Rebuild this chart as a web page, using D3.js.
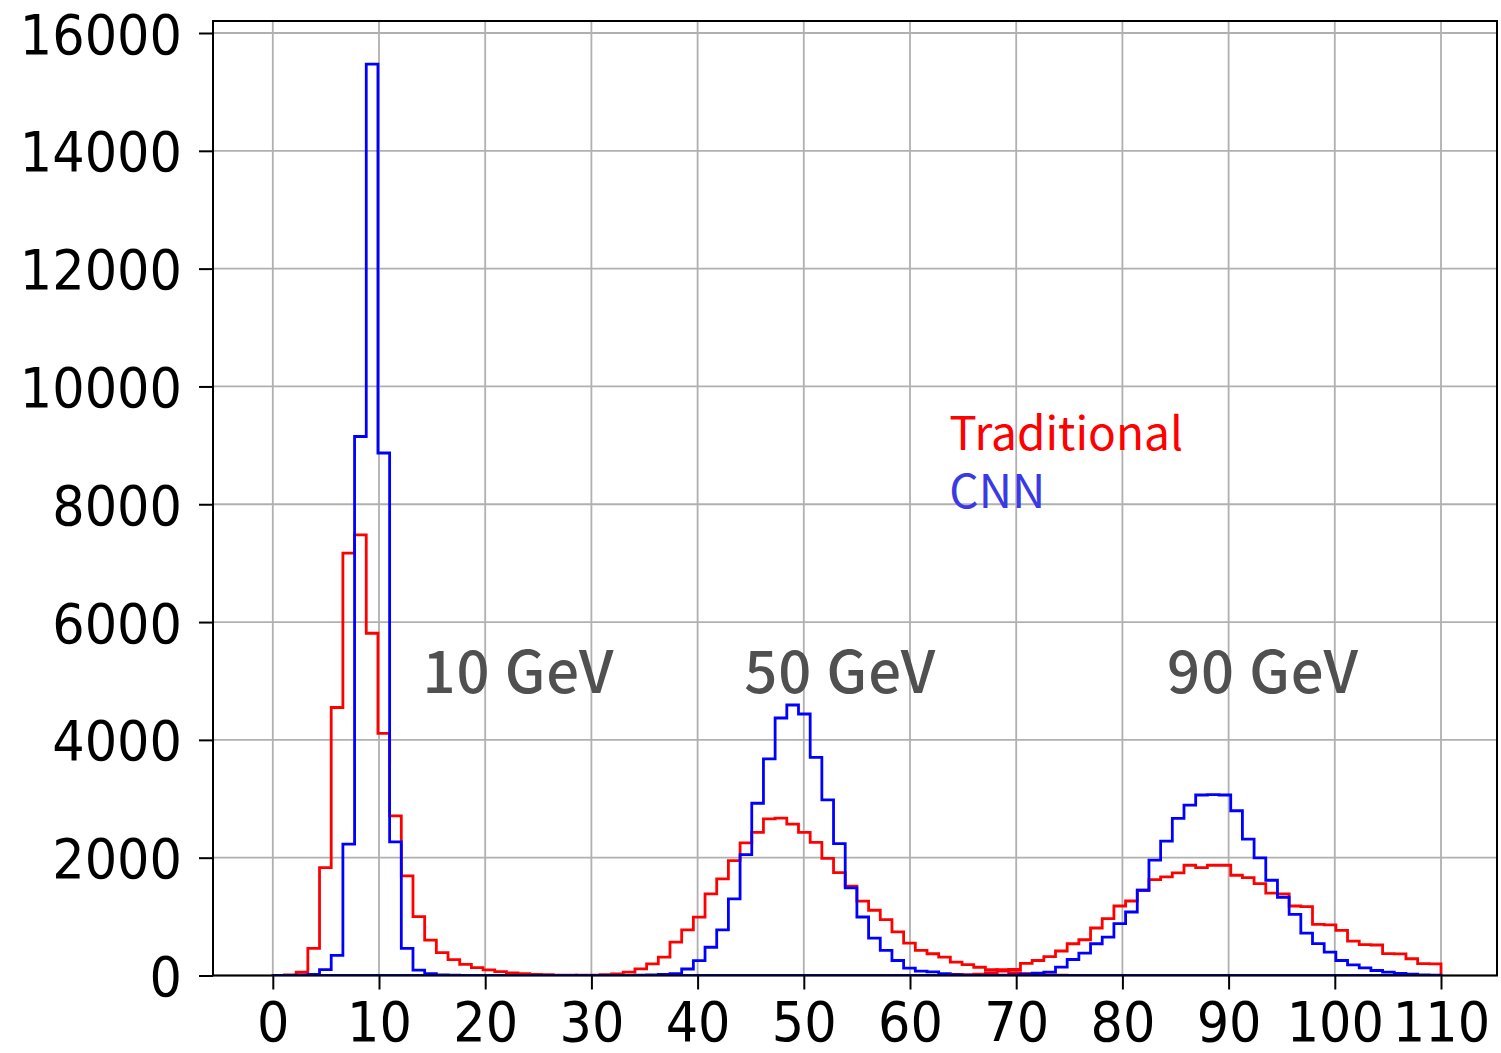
<!DOCTYPE html>
<html>
<head>
<meta charset="utf-8">
<script src="https://cdn.jsdelivr.net/npm/d3@7/dist/d3.min.js"></script>
<style>
  html, body { margin: 0; padding: 0; background: #ffffff; }
</style>
</head>
<body>
<svg id="chart" width="1501" height="1053"></svg>
<script>
// ---------------- DATA ----------------
// Histogram binning: 100 bins of width 1.1 from 0 to 110
const binMin = 0;
const binMax = 110;
const binCount = 100;

const xTickValues = [0, 10, 20, 30, 40, 50, 60, 70, 80, 90, 100, 110];
const yTickValues = [0, 2000, 4000, 6000, 8000, 10000, 12000, 14000, 16000];

// Counts per bin, each list begins at the given bin index (other bins are empty)
const trad10Start = 0;
const trad10 = [2, 10, 55, 460, 1830, 4550, 7170, 7480, 5810, 4110, 2710, 1690, 1000, 600,
  390, 270, 190, 135, 95, 65, 45, 30, 20, 13, 8, 5, 3, 2];

const cnn10Start = 2;
const cnn10 = [5, 20, 100, 340, 2230, 9150, 15470, 8870, 2270, 460, 90, 30, 12, 5, 2];

const trad50Start = 24;
const trad50 = [1, 2, 5, 8, 14, 28, 57, 113, 199, 312, 567, 775, 990, 1385, 1640, 1950,
  2250, 2430, 2660, 2670, 2570, 2430, 2260, 1990, 1745, 1515, 1262, 1108, 950, 740,
  550, 426, 369, 312, 227, 185, 140, 100, 75, 50, 30, 18, 10, 6, 3, 2];

const cnn50Start = 30;
const cnn50 = [3, 6, 10, 18, 30, 110, 254, 480, 775, 1300, 2053, 2924, 3676, 4371, 4592,
  4439, 3704, 2980, 2240, 1487, 993, 635, 426, 255, 125, 75, 60, 30, 20, 12, 8, 5, 3];

const trad90Start = 56;
const trad90 = [1, 3, 6, 12, 25, 50, 100, 102, 205, 255, 322, 416, 539, 607, 806, 965,
  1180, 1265, 1447, 1628, 1674, 1742, 1872, 1833, 1872, 1872, 1702, 1663, 1560, 1400,
  1385, 1180, 1168, 868, 858, 766, 584, 525, 518, 372, 366, 284, 202, 197];

const cnn90Start = 58;
const cnn90 = [1, 2, 3, 5, 8, 12, 22, 40, 57, 141, 272, 380, 539, 652, 880, 1078, 1447,
  1957, 2281, 2667, 2894, 3064, 3070, 3064, 2797, 2315, 1997, 1617, 1328, 1038, 720,
  540, 397, 255, 182, 131, 85, 57, 35, 22, 12, 8];

const legendLabels = ["Traditional", "CNN"];
const energyLabels = ["10 GeV", "50 GeV", "90 GeV"];

// ---------------- LAYOUT / STYLE ----------------
const frame = { left: 213, right: 1497, top: 21, bottom: 975.5 };
const xRange = [272.8, 1441];
const yRange = [975.5, 33];
const colors = { trad: "#ff0000", cnn: "#0000ff", cnnText: "#3a3ae4", note: "#505050" };
const noteFont = "'Noto Sans CJK JP', 'Noto Sans', sans-serif";
const tickStyle = "font-family: 'DejaVu Sans', 'DejaVu Sans Book', Verdana, sans-serif; font-size: 51px;";

// annotation anchors in data units
const energyLabelPos = [[14.1, 4800], [44.4, 4800], [84.2, 4800]];
const legendPos = [[63.7, 8920], [63.7, 7930]];

// ---------------- BUILD ----------------
const svg = d3.select("#chart");
const x = d3.scaleLinear().domain([binMin, binMax]).range(xRange);
const y = d3.scaleLinear().domain([0, 16000]).range(yRange);

const binWidth = (binMax - binMin) / binCount;
const edges = d3.range(binCount + 1).map(i => binMin + i * binWidth);

function fullCounts(start, counts) {
  const arr = new Array(binCount).fill(0);
  counts.forEach((c, i) => { arr[start + i] = c; });
  return arr;
}

const series = [
  { counts: fullCounts(trad10Start, trad10), color: colors.trad },
  { counts: fullCounts(cnn10Start, cnn10), color: colors.cnn },
  { counts: fullCounts(trad50Start, trad50), color: colors.trad },
  { counts: fullCounts(cnn50Start, cnn50), color: colors.cnn },
  { counts: fullCounts(trad90Start, trad90), color: colors.trad },
  { counts: fullCounts(cnn90Start, cnn90), color: colors.cnn }
];

svg.append("rect").attr("x", 0).attr("y", 0).attr("width", 1501).attr("height", 1053).attr("fill", "#fff");

svg.append("defs").append("clipPath").attr("id", "plotclip")
  .append("rect")
  .attr("x", frame.left).attr("y", frame.top)
  .attr("width", frame.right - frame.left).attr("height", frame.bottom - frame.top);

// grid
const grid = svg.append("g").attr("class", "grid");
grid.selectAll("line.vx").data(xTickValues).enter().append("line")
  .attr("x1", d => x(d)).attr("x2", d => x(d))
  .attr("y1", frame.top).attr("y2", frame.bottom)
  .attr("stroke", "#b0b0b0").attr("stroke-width", 1.8);
grid.selectAll("line.hy").data(yTickValues).enter().append("line")
  .attr("x1", frame.left).attr("x2", frame.right)
  .attr("y1", d => y(d)).attr("y2", d => y(d))
  .attr("stroke", "#b0b0b0").attr("stroke-width", 1.8);

// histograms (step outlines)
const line = d3.line().x(d => x(d[0])).y(d => y(d[1]));
const plot = svg.append("g").attr("clip-path", "url(#plotclip)");
series.forEach(s => {
  const pts = [[edges[0], 0]];
  s.counts.forEach((c, i) => { pts.push([edges[i], c]); pts.push([edges[i + 1], c]); });
  pts.push([edges[binCount], 0]);
  plot.append("path").attr("d", line(pts))
    .attr("fill", "none").attr("stroke", s.color)
    .attr("stroke-width", 2.8).attr("stroke-linejoin", "miter");
});

// axes
const xAxis = d3.axisBottom(x).tickValues(xTickValues).tickFormat(d3.format("d")).tickSize(14).tickPadding(0);
const yAxis = d3.axisLeft(y).tickValues(yTickValues).tickFormat(d3.format("d")).tickSize(14).tickPadding(0);

const gx = svg.append("g").attr("transform", `translate(0,${frame.bottom})`).call(xAxis)
  .attr("font-family", "DejaVu Sans").attr("font-size", 51);
gx.select(".domain").remove();
gx.selectAll(".tick line").attr("stroke", "#000").attr("stroke-width", 2);
gx.selectAll(".tick text")
  .attr("style", tickStyle)
  .attr("y", 0).attr("dy", null)
  .attr("transform", "translate(0,65) scale(1,1.07)")
  .attr("text-anchor", "middle")
  .attr("fill", "#000");

const gy = svg.append("g").attr("transform", `translate(${frame.left},0)`).call(yAxis)
  .attr("font-family", "DejaVu Sans").attr("font-size", 51);
gy.select(".domain").remove();
gy.selectAll(".tick line").attr("stroke", "#000").attr("stroke-width", 2);
gy.selectAll(".tick text")
  .attr("style", tickStyle)
  .attr("x", 0).attr("dy", null)
  .attr("transform", "translate(-31,20) scale(1,1.07)")
  .attr("text-anchor", "end")
  .attr("fill", "#000");

// frame
svg.append("rect")
  .attr("x", frame.left).attr("y", frame.top)
  .attr("width", frame.right - frame.left).attr("height", frame.bottom - frame.top)
  .attr("fill", "none").attr("stroke", "#000").attr("stroke-width", 2);

// energy labels
svg.selectAll("text.energy").data(energyLabels).enter().append("text")
  .attr("class", "energy")
  .attr("x", (d, i) => x(energyLabelPos[i][0]))
  .attr("y", (d, i) => y(energyLabelPos[i][1]))
  .style("font-family", noteFont).style("font-size", "58px").style("font-weight", 500)
  .style("letter-spacing", "1px")
  .attr("fill", colors.note)
  .text(d => d);

// legend text
const legendColors = [colors.trad, colors.cnnText];
svg.selectAll("text.legend").data(legendLabels).enter().append("text")
  .attr("class", "legend")
  .attr("x", (d, i) => x(legendPos[i][0]))
  .attr("y", (d, i) => y(legendPos[i][1]))
  .style("font-family", noteFont).style("font-size", "46px").style("font-weight", 400)
  .attr("fill", (d, i) => legendColors[i])
  .text(d => d);
</script>
</body>
</html>
